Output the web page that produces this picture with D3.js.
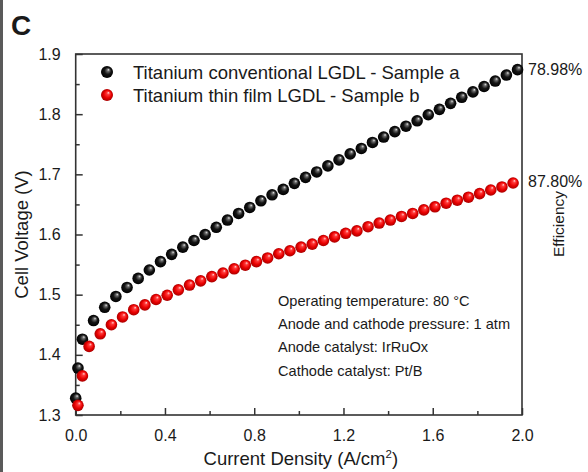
<!DOCTYPE html>
<html>
<head>
<meta charset="utf-8">
<script src="https://cdn.jsdelivr.net/npm/d3@7/dist/d3.min.js"></script>
<style>
  html, body { margin: 0; padding: 0; background: #fff; }
  svg { display: block; }
  text { font-family: "Liberation Sans", Arial, sans-serif; fill: #1a1a1a; }
</style>
</head>
<body>
<script>
// Polarization curves: current density (A/cm²) vs. cell voltage (V)
const seriesNames = [
  "Titanium conventional LGDL - Sample a",
  "Titanium thin film LGDL - Sample b"
];
const currentA = [0, 0.01, 0.03, 0.08, 0.13, 0.18, 0.23, 0.28, 0.33, 0.38, 0.43, 0.48, 0.53, 0.58,
  0.63, 0.68, 0.73, 0.78, 0.83, 0.88, 0.93, 0.98, 1.03, 1.08, 1.13, 1.18, 1.23, 1.28, 1.33, 1.38,
  1.43, 1.48, 1.53, 1.58, 1.63, 1.68, 1.73, 1.78, 1.83, 1.88, 1.93, 1.98];
const voltageA = [1.328, 1.378, 1.426, 1.457, 1.479, 1.497, 1.512, 1.527, 1.541, 1.555, 1.567, 1.579, 1.590, 1.600,
  1.612, 1.624, 1.635, 1.645, 1.656, 1.666, 1.675, 1.685, 1.695, 1.704, 1.714, 1.724, 1.734, 1.743, 1.753, 1.762,
  1.771, 1.780, 1.789, 1.799, 1.808, 1.818, 1.828, 1.837, 1.846, 1.855, 1.865, 1.874];
const currentB = [0.01, 0.03, 0.06, 0.11, 0.16, 0.21, 0.26, 0.31, 0.36, 0.41, 0.46, 0.51, 0.56, 0.61,
  0.66, 0.71, 0.76, 0.81, 0.86, 0.91, 0.96, 1.01, 1.06, 1.11, 1.16, 1.21, 1.26, 1.31, 1.36, 1.41,
  1.46, 1.51, 1.56, 1.61, 1.66, 1.71, 1.76, 1.81, 1.86, 1.91, 1.96];
const voltageB = [1.316, 1.365, 1.414, 1.435, 1.450, 1.463, 1.475, 1.483, 1.492, 1.499, 1.508, 1.516, 1.523, 1.530,
  1.536, 1.543, 1.549, 1.555, 1.561, 1.568, 1.573, 1.579, 1.584, 1.590, 1.596, 1.602, 1.606, 1.613, 1.619, 1.624,
  1.630, 1.635, 1.641, 1.646, 1.652, 1.657, 1.662, 1.668, 1.674, 1.679, 1.6856];
const xTicks = [0, 0.4, 0.8, 1.2, 1.6, 2.0];
const xMinorTicks = [0.2, 0.6, 1.0, 1.4, 1.8];
const yTicks = [1.3, 1.4, 1.5, 1.6, 1.7, 1.8, 1.9];
const yMinorTicks = [1.35, 1.45, 1.55, 1.65, 1.75, 1.85];
const conditions = [
  "Operating temperature: 80 \u00B0C",
  "Anode and cathode pressure: 1 atm",
  "Anode catalyst: IrRuOx",
  "Cathode catalyst: Pt/B"
];
// Thermoneutral voltage used for the efficiency at the highest current
const thermoneutralV = 1.48;

const W = 588, H = 472;
const plot = { left: 75.7, right: 522, top: 54, bottom: 415 };

const svg = d3.select("body").append("svg").attr("width", W).attr("height", H);
svg.append("rect").attr("width", W).attr("height", H).attr("fill", "#fff");
svg.append("rect").attr("x", 0).attr("y", 0).attr("width", 3).attr("height", H).attr("fill", "#5a5a5a");

const x = d3.scaleLinear().domain([0, 2]).range([plot.left, plot.right]);
const y = d3.scaleLinear().domain([1.3, 1.9]).range([plot.bottom, plot.top]);

// sphere-like marker shading
const defs = svg.append("defs");
function ballGradient(id, stops) {
  const g = defs.append("radialGradient").attr("id", id)
    .attr("cx", "50%").attr("cy", "50%").attr("r", "50%")
    .attr("fx", "64%").attr("fy", "30%");
  stops.forEach(s => g.append("stop").attr("offset", s[0]).attr("stop-color", s[1]));
}
ballGradient("ballBlack", [["0%", "#e6e6e6"], ["22%", "#6a6a6a"], ["55%", "#151515"], ["100%", "#000"]]);
ballGradient("ballRed", [["0%", "#ffd6d6"], ["25%", "#ff3a3a"], ["65%", "#e80000"], ["100%", "#a80000"]]);

// frame
svg.append("rect").attr("x", plot.left).attr("y", plot.top)
  .attr("width", plot.right - plot.left).attr("height", plot.bottom - plot.top)
  .attr("fill", "none").attr("stroke", "#333").attr("stroke-width", 1.6);

function styleTicks(g) {
  g.select(".domain").remove();
  g.selectAll(".tick line").attr("stroke", "#333").attr("stroke-width", 1.5);
  g.selectAll(".tick text").attr("font-size", 16).attr("fill", "#1a1a1a");
}

// bottom axis with inward ticks
svg.append("g").attr("transform", `translate(0,${plot.bottom})`)
  .call(d3.axisBottom(x).tickValues(xTicks).tickSize(-7).tickPadding(15).tickFormat(d3.format(".1f")))
  .call(styleTicks);
svg.append("g").attr("transform", `translate(0,${plot.bottom})`)
  .call(d3.axisBottom(x).tickValues(xMinorTicks).tickSize(-4).tickFormat(""))
  .call(styleTicks);

// left axis with inward ticks
svg.append("g").attr("transform", `translate(${plot.left},0)`)
  .call(d3.axisLeft(y).tickValues(yTicks).tickSize(-7).tickPadding(15).tickFormat(d3.format(".1f")))
  .call(styleTicks);
svg.append("g").attr("transform", `translate(${plot.left},0)`)
  .call(d3.axisLeft(y).tickValues(yMinorTicks).tickSize(-4).tickFormat(""))
  .call(styleTicks);

// markers
const R = 5.8;
function drawSeries(xs, vs, fill) {
  svg.append("g").selectAll("circle").data(xs.map((c, i) => [c, vs[i]])).join("circle")
    .attr("cx", d => x(d[0])).attr("cy", d => y(d[1])).attr("r", R)
    .attr("fill", fill);
}
drawSeries(currentA, voltageA, "url(#ballBlack)");
drawSeries(currentB, voltageB, "url(#ballRed)");

// efficiency at the last point of each curve
const fmtPct = v => (thermoneutralV / v * 100).toFixed(2) + "%";
const lastA = voltageA[voltageA.length - 1], lastB = voltageB[voltageB.length - 1];
svg.append("text").attr("x", plot.right + 6).attr("y", y(lastA) + 5).attr("font-size", 16).text(fmtPct(lastA));
svg.append("text").attr("x", plot.right + 6).attr("y", y(lastB) + 4.5).attr("font-size", 16).text(fmtPct(lastB));

// legend
const legend = svg.append("g");
[["url(#ballBlack)", 72], ["url(#ballRed)", 95]].forEach((d, i) => {
  legend.append("circle").attr("cx", 107).attr("cy", d[1]).attr("r", R + 0.2).attr("fill", d[0]);
  legend.append("text").attr("x", 133).attr("y", d[1] + 6.5).attr("font-size", 18.5).text(seriesNames[i]);
});

// operating conditions
svg.append("g").selectAll("text").data(conditions).join("text")
  .attr("x", 278).attr("y", (d, i) => 306 + i * 23.2).attr("font-size", 14.6).text(d => d);

// axis titles
const xt = svg.append("text").attr("x", (plot.left + plot.right) / 2 + 2).attr("y", 465)
  .attr("text-anchor", "middle").attr("font-size", 18.5);
xt.append("tspan").text("Current Density (A/cm");
xt.append("tspan").attr("font-size", 11.5).attr("dy", -7).text("2");
xt.append("tspan").attr("dy", 7).text(")");

svg.append("text").attr("transform", `translate(28,${(plot.top + plot.bottom) / 2}) rotate(-90)`)
  .attr("text-anchor", "middle").attr("font-size", 18.5).text("Cell Voltage (V)");
svg.append("text").attr("transform", `translate(564,224) rotate(-90)`)
  .attr("text-anchor", "middle").attr("font-size", 15.5).text("Efficiency");

// panel letter
svg.append("text").attr("x", 11).attr("y", 35).attr("font-size", 28).attr("font-weight", "bold").text("C");
</script>
</body>
</html>
